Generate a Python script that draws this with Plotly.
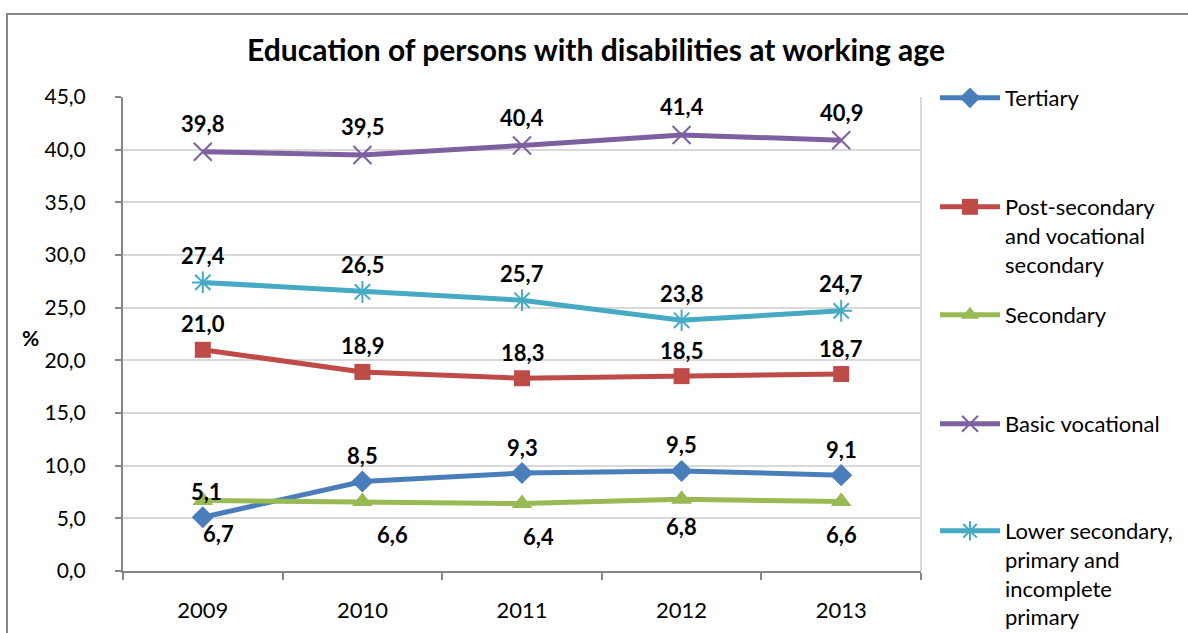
import plotly.graph_objects as go

years = ["2009", "2010", "2011", "2012", "2013"]

tertiary = [5.1, 8.5, 9.3, 9.5, 9.1]
post_secondary = [21.0, 18.9, 18.3, 18.5, 18.7]
secondary = [6.7, 6.6, 6.4, 6.8, 6.6]
basic_vocational = [39.8, 39.5, 40.4, 41.4, 40.9]
lower_secondary = [27.4, 26.5, 25.7, 23.8, 24.7]

y_ticks = [0, 5, 10, 15, 20, 25, 30, 35, 40, 45]

FONT = "Lato, Calibri, Carlito, sans-serif"

# name, values, colour, marker, label x offsets, label y offsets (px), legend id
series = [
    ("Tertiary", tertiary, "#4A7EBB", dict(symbol="diamond", size=17),
     [4, 0, 0, 0, 0], [26] * 5, "legend"),
    ("Post-secondary<br>and vocational<br>secondary", post_secondary, "#BE4B48",
     dict(symbol="square", size=16), [0] * 5, [26] * 5, "legend2"),
    ("Secondary", secondary, "#98B954", dict(symbol="triangle-up", size=18),
     [16, 30, 16, 0, 0], [-33, -33, -33, -27, -33], "legend3"),
    ("Basic vocational", basic_vocational, "#7D60A0",
     dict(symbol="x-thin-open", size=18, line=dict(width=2)), [0] * 5, [28] * 5, "legend4"),
    ("Lower secondary,<br>primary and<br>incomplete<br>primary", lower_secondary, "#46AAC5",
     dict(symbol="asterisk-open", size=18, line=dict(width=2)), [0] * 5, [27] * 5, "legend5"),
]

fig = go.Figure()
for name, vals, color, marker, xs, ys, leg in series:
    m = dict(marker)
    m["color"] = color
    if "line" in m:
        m["line"] = dict(m["line"], color=color)
    fig.add_trace(go.Scatter(
        x=years, y=vals, name=name, mode="lines+markers",
        line=dict(color=color, width=5),
        marker=m,
        legend=leg,
        cliponaxis=False,
    ))
    # value labels, placed on the category index of each year
    for i, v in enumerate(vals):
        fig.add_annotation(
            x=i, y=v, xref="x", yref="y", showarrow=False,
            text=f"<b>{v:.1f}</b>".replace(".", ","),
            xshift=xs[i], yshift=ys[i], xanchor="center", yanchor="middle",
            font=dict(family=FONT, size=22, color="#000000"),
        )

# plot area geometry in pixels
L, R, T, B = 123, 921, 97, 571
W, H = 1188, 633


def py(px):
    return (B - px) / (B - T)


def pxx(px):
    return (px - L) / (R - L)


legend_common = dict(
    font=dict(family=FONT, size=22, color="#000000"),
    bgcolor="rgba(0,0,0,0)", borderwidth=0,
    xanchor="left", yanchor="top", valign="top",
    itemwidth=60, tracegroupgap=0,
)
legend_tops = [77, 186, 294, 403, 510]
legend_keys = ["legend", "legend2", "legend3", "legend4", "legend5"]
for key, top in zip(legend_keys, legend_tops):
    fig.update_layout({key: dict(legend_common, x=pxx(935), y=py(top))})

fig.update_layout(
    width=W, height=H,
    margin=dict(l=L, r=W - R, t=T, b=H - B, autoexpand=False),
    paper_bgcolor="#ffffff", plot_bgcolor="#ffffff",
    separators=", ",
    font=dict(family=FONT, size=20, color="#000000"),
    title=dict(
        text="<b>Education of persons with disabilities at working age</b>",
        xref="container", x=596 / W, xanchor="center",
        yref="container", y=1 - 50 / H, yanchor="middle",
        font=dict(family=FONT, size=30, color="#000000"),
    ),
    showlegend=True,
)

fig.update_xaxes(
    type="category", range=[-0.5, 4.5], showgrid=False,
    showline=True, linecolor="#868686", linewidth=2,
    ticks="outside", tickson="boundaries", ticklen=7, tickcolor="#868686", tickwidth=2,
    tickfont=dict(family=FONT, size=22, color="#000000"),
    ticklabelstandoff=19,
)
fig.update_yaxes(
    range=[0, 45], tickvals=y_ticks, tickformat=".1f",
    showgrid=True, gridcolor="#D9D9D9", gridwidth=2,
    showline=True, linecolor="#868686", linewidth=2,
    ticks="outside", ticklen=6, tickcolor="#868686", tickwidth=2,
    tickfont=dict(family=FONT, size=21, color="#000000"),
    ticklabelstandoff=25,
    zeroline=False,
)

# "%" axis caption
fig.add_annotation(
    text="<b>%</b>", xref="paper", yref="paper", x=pxx(30), y=py(337),
    xanchor="center", yanchor="middle", showarrow=False,
    font=dict(family=FONT, size=21, color="#000000"),
)

# light right edge of the plot area
fig.add_shape(type="line", xref="paper", yref="paper", x0=1, x1=1, y0=0, y1=1,
              line=dict(color="#D9D9D9", width=2), layer="below")

# outer chart frame
fig.add_shape(type="rect", xref="paper", yref="paper",
              x0=pxx(7), x1=pxx(W + 20), y0=py(H + 20), y1=py(14),
              line=dict(color="#868686", width=2), fillcolor="rgba(0,0,0,0)")

fig.write_html("out.html")
